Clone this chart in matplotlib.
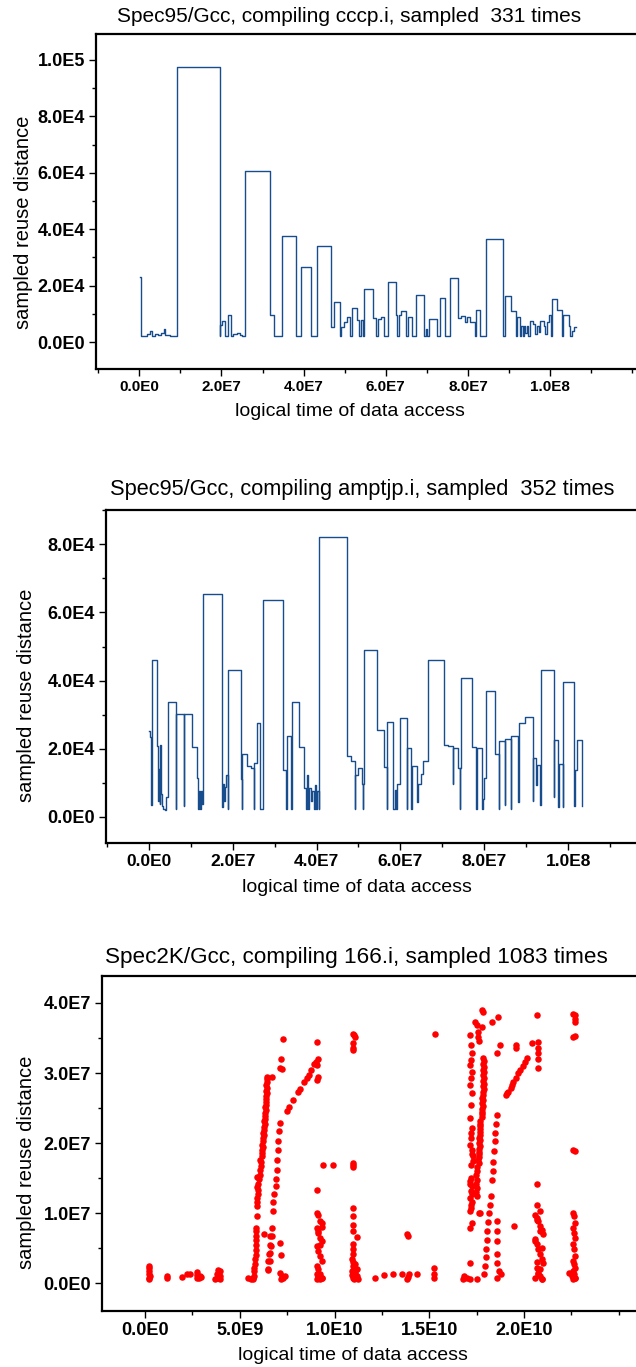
import numpy as np
import matplotlib
matplotlib.use("Agg")
import matplotlib.pyplot as plt
from matplotlib.ticker import FixedLocator, MultipleLocator, FuncFormatter

plt.rcParams['font.family'] = ['Liberation Sans', 'DejaVu Sans']

# --- panel 1: cccp.i (time in 1e6 accesses, distance in 1e3) ---
t1 = [0.16, 0.32, 1.8, 2.6, 3.1, 3.8, 4.6, 5.4, 6.0, 6.3, 7.5, 9.1, 19.56, 19.7, 20.1, 20.8,
      21.6, 22.3, 22.9, 23.7, 24.4, 24.9, 25.7, 31.8, 32.9, 34.7, 38.2, 39.4, 41.7, 43.3,
      46.6, 47.5, 48.8, 49.0, 49.8, 50.6, 51.2, 51.7, 52.9, 53.4, 53.9, 54.4, 54.7, 56.8,
      57.6, 58.2, 58.8, 59.6, 60.6, 62.5, 62.8, 63.1, 63.6, 64.9, 65.5, 66.4, 67.4, 69.2,
      69.8, 70.1, 70.6, 71.6, 72.4, 73.1, 74.3, 75.7, 77.5, 78.3, 79.3, 79.7, 80.5, 81.7,
      81.9, 83.0, 84.5, 88.5, 89.1, 90.5, 91.6, 91.9, 92.7, 92.9, 93.3, 93.7, 94.0, 94.3,
      94.6, 95.1, 95.9, 96.4, 96.8, 97.2, 97.6, 98.4, 98.8, 99.2, 99.8, 100.2, 100.4, 101.6,
      102.9, 103.2, 104.6, 104.9, 105.3, 105.8, 106.3]
d1 = [23.0, 2.25, 2.8, 4.0, 2.25, 2.8, 2.6, 3.3, 4.6, 2.6, 2.25, 97.4, 2.25, 6.2, 7.3, 2.25,
      9.4, 2.25, 2.8, 3.1, 2.6, 2.25, 60.7, 9.6, 2.25, 37.6, 2.25, 26.7, 2.25, 34.1,
      5.2, 14.1, 2.25, 5.2, 7.0, 8.8, 2.25, 12.1, 7.9, 2.25, 7.9, 2.25, 18.7, 8.5,
      2.25, 8.2, 9.0, 2.25, 21.3, 9.4, 2.25, 9.4, 11.1, 2.25, 9.0, 2.25, 16.7, 2.25,
      4.6, 2.25, 8.2, 8.0, 2.25, 15.6, 2.25, 22.6, 8.4, 9.2, 7.0, 9.0, 7.0, 2.25,
      11.3, 2.25, 36.6, 2.25, 16.2, 11.1, 2.25, 9.0, 2.25, 5.8, 2.25, 5.5, 3.1, 5.8,
      2.25, 7.6, 6.4, 2.8, 5.5, 3.4, 7.6, 5.8, 2.8, 7.0, 9.4, 2.25, 15.3, 11.3,
      2.25, 9.4, 5.8, 2.25, 4.0, 5.2, 5.2]

# --- panel 2: amptjp.i (time in 1e6, distance in 1e3) ---
t2 = [0.16, 0.32, 0.64, 0.8, 2.0, 2.3, 2.5, 2.6, 2.8, 3.0, 3.2, 3.4, 3.9, 4.1, 4.5, 6.5,
      6.6, 8.3, 8.4, 10.3, 11.4, 11.7, 11.9, 12.2, 12.5, 12.8, 13.0, 17.5, 17.6, 18.0,
      18.3, 18.4, 18.9, 19.0, 21.9, 22.3, 22.35, 23.5, 24.5, 25.0, 25.2, 25.7, 26.5, 27.3,
      32.1, 32.8, 32.9, 34.0, 34.1, 35.9, 37.1, 37.4, 37.7, 38.0, 38.3, 38.6, 39.0, 39.3,
      39.6, 39.9, 40.1, 40.5, 40.6, 47.3, 48.3, 49.1, 49.2, 49.8, 50.8, 51.0, 51.1, 51.4,
      54.5, 56.0, 56.7, 56.8, 58.3, 58.6, 59.0, 59.1, 59.8, 61.5, 61.6, 62.6, 62.8, 63.9,
      64.3, 64.9, 65.5, 66.5, 70.3, 71.4, 72.5, 72.6, 73.8, 74.1, 74.2, 74.5, 77.0, 78.1,
      78.2, 79.4, 79.6, 80.0, 80.3, 82.6, 83.5, 83.6, 84.9, 85.0, 86.3, 86.4, 88.0, 88.2,
      89.7, 91.6, 91.7, 92.4, 92.5, 93.3, 93.5, 96.5, 96.6, 97.6, 97.9, 98.7, 98.8, 101.4,
      101.5, 102.1, 103.3]
d2 = [25.1, 23.4, 3.5, 46.0, 20.8, 4.7, 14.1, 3.7, 21.0, 6.7, 3.2, 2.3, 2.0, 5.9, 33.6, 2.3,
      30.1, 3.2, 30.1, 20.5, 11.4, 2.3, 7.7, 2.3, 7.5, 3.7, 65.5, 2.8, 9.6, 4.7,
      8.7, 12.4, 2.3, 43.0, 11.1, 2.3, 18.5, 14.9, 14.4, 2.3, 15.8, 27.4, 2.3, 63.7,
      13.6, 2.3, 23.6, 2.3, 33.6, 20.5, 8.5, 2.3, 12.4, 2.3, 8.5, 4.7, 7.7, 2.3,
      9.2, 2.3, 7.7, 2.3, 82.3, 17.7, 16.3, 2.3, 12.3, 14.4, 9.6, 2.3, 9.6, 48.9,
      25.4, 14.6, 2.3, 27.7, 2.3, 7.9, 2.3, 9.6, 29.1, 2.3, 20.2, 2.3, 14.9, 4.2,
      9.6, 12.6, 16.3, 46.1, 21.2, 20.9, 9.6, 20.3, 14.4, 2.3, 14.4, 40.8, 20.5, 2.3,
      20.3, 2.3, 5.2, 11.4, 37.0, 18.5, 2.3, 22.1, 3.5, 22.8, 2.3, 23.8, 4.2, 27.6,
      29.3, 4.7, 17.3, 9.4, 15.1, 3.5, 43.1, 5.7, 22.6, 2.8, 15.6, 2.8, 39.7, 3.2,
      13.6, 22.6, 3.2]

# --- panel 3: 166.i (time in 1e9, distance in 1e6) ---
t3 = [0.23, 0.2, 0.25, 0.23, 0.22, 0.23, 0.22,
      1.14, 1.14, 1.94, 2.2, 2.37, 2.73, 2.73, 2.73, 2.85, 2.9, 2.95,
      3.69, 3.78, 3.78, 3.85, 3.96, 3.96, 3.96, 3.9,
      5.45, 5.6, 5.72, 5.77, 5.77, 5.72, 5.75,
      5.81, 5.81, 5.85, 5.85, 5.85, 5.86, 5.87, 5.87, 5.88, 5.89, 5.9, 5.92, 5.89, 5.95,
      5.95, 5.9, 5.98, 6.0, 5.92, 6.05, 6.07, 6.1, 6.12, 6.07, 6.15, 6.18, 6.2, 6.22,
      6.2, 6.25, 6.22, 6.28, 6.25, 6.3, 6.27, 6.32, 6.3, 6.33, 6.35, 6.33, 6.37, 6.35,
      6.38, 6.37, 6.4, 6.38, 6.42, 6.4, 6.42, 6.4, 6.43, 6.42, 6.43,
      6.51, 6.6, 6.6, 6.64, 6.6, 6.69, 6.73, 6.77, 6.82, 6.9, 6.92, 6.95, 6.95, 7.0,
      7.04, 7.08, 7.1,
      7.48, 7.6, 7.83, 8.09, 8.18, 8.41, 8.53, 8.66, 8.76, 8.92, 9.01, 9.15,
      6.69, 7.18, 7.15, 7.25, 7.3,
      6.28, 6.69, 6.6, 6.54, 6.5, 6.5, 7.13, 7.2, 7.13, 7.2, 7.3, 7.4, 7.25,
      9.06, 9.06, 9.15, 9.06, 9.06, 9.41, 9.94,
      9.06, 9.15, 9.24, 9.32, 9.06, 9.15, 9.24, 9.32, 9.06, 9.15, 9.24, 9.32, 9.06, 9.15,
      9.24, 9.32, 9.06, 9.24, 9.32, 9.15, 9.06, 9.24, 9.15, 9.32,
      11.0, 11.08, 10.95, 10.98, 10.95, 11.05, 10.95, 11.0, 11.0,
      11.0, 10.95, 10.95, 11.0, 11.17, 10.95, 10.98, 11.0, 10.9, 11.0, 11.08, 10.95, 11.05,
      11.17, 10.9, 11.0, 11.1, 11.2, 10.95, 11.05, 11.26, 11.15, 10.92, 11.08,
      12.14, 12.61, 13.11, 13.55, 13.8, 13.9, 13.85, 13.9, 13.95, 14.34,
      15.31, 15.27, 15.27, 15.27,
      16.8, 16.85, 16.98, 17.15, 17.15, 17.15, 17.24,
      17.15, 17.2, 17.24, 17.2, 17.15, 17.24, 17.2, 17.15, 17.24, 17.2, 17.15, 17.24,
      17.2, 17.15, 17.24, 17.33, 17.2, 17.15, 17.24, 17.2, 17.15, 17.24, 17.2, 17.15,
      17.2, 17.24, 17.33, 17.2, 17.15, 17.24, 17.2,
      17.86, 17.9, 17.86, 17.9, 17.86, 17.9, 17.86, 17.9, 17.84, 17.88, 17.84, 17.88,
      17.82, 17.86, 17.8, 17.84, 17.8, 17.82, 17.78, 17.8, 17.76, 17.78,
      17.68, 17.7, 17.66, 17.7, 17.66, 17.68, 17.64, 17.68, 17.62, 17.66, 17.6, 17.64,
      17.6, 17.62, 17.58, 17.6,
      17.5, 17.52, 17.48, 17.52, 17.48, 17.5, 17.46, 17.5,
      17.42, 17.5, 17.59, 17.59, 17.77, 17.86, 17.77, 18.3, 18.65, 17.6,
      18.56, 18.5, 18.47, 18.45, 18.42, 18.38, 18.35, 18.3, 18.25, 18.2, 18.15, 18.1,
      18.07, 18.03, 18.0, 17.97, 17.94, 17.9,
      18.56, 18.56, 18.56, 18.56, 18.56, 18.7, 18.8, 18.56, 17.5, 17.6, 17.7,
      19.05, 19.18, 19.3, 19.44, 19.58, 19.7, 19.79, 19.93, 20.06, 20.14, 19.1, 19.37,
      18.56, 18.74, 19.58, 19.58, 20.41, 20.67, 20.76, 20.76, 20.76, 20.76, 20.76,
      20.67, 20.67, 20.85,
      20.58, 20.67, 20.76, 20.85, 20.94, 21.02, 20.58, 20.67, 20.76, 20.85, 20.94,
      21.02, 20.67, 20.76, 20.85, 20.94,
      20.58, 20.76, 20.94, 20.85, 20.67, 20.94, 20.58, 20.85, 20.67, 19.48,
      22.61, 22.69, 22.69, 22.69, 22.61, 22.69, 22.61, 22.69,
      22.61, 22.65, 22.7, 22.61, 22.65, 22.7, 22.61, 22.65, 22.7, 22.61, 22.65, 22.7,
      22.61, 22.65, 22.7, 22.61,
      22.4, 22.52, 22.7]
d3 = [0.57, 0.81, 1.04, 1.28, 1.75, 2.23, 2.46,
      0.81, 1.04, 0.95, 1.28, 1.4, 0.81, 1.2, 1.6, 0.81, 1.04, 0.9,
      0.57, 0.81, 1.28, 1.85, 0.6, 1.04, 1.75, 0.8,
      0.81, 0.6, 0.57, 1.75, 2.23, 0.8, 1.0,
      2.7, 3.4, 4.1, 4.8, 5.5, 6.2, 6.7, 7.4, 7.9, 9.6, 11.0, 11.6, 12.2, 12.7,
      13.3, 13.8, 14.2, 14.9, 15.2, 15.5, 16.2, 16.8, 17.3, 17.6, 18.1, 18.6, 19.0, 19.4,
      19.8, 20.3, 20.7, 21.1, 21.5, 21.9, 22.3, 22.7, 23.1, 23.5, 23.9, 24.3, 24.7, 25.1,
      25.5, 25.9, 26.3, 26.7, 27.1, 27.5, 27.9, 28.3, 28.7, 29.1, 29.5,
      1.99, 3.18, 4.27, 5.31, 6.73, 7.91, 10.28, 11.56, 12.75, 13.84, 14.93, 16.21, 17.58, 18.96,
      20.33, 21.75, 22.94,
      24.6, 25.21, 26.21, 27.35, 27.72, 28.77, 29.24, 29.72, 30.43, 31.28, 31.61, 31.94,
      29.48, 31.94, 30.66, 30.6, 34.83,
      6.97, 6.73, 5.4, 4.2, 3.2, 1.9, 5.8, 4.1, 1.5, 0.6, 0.81, 1.0, 1.04,
      34.5, 31.14, 29.48, 29.0, 13.27, 16.82, 16.82,
      10.05, 9.81, 8.86, 8.63, 7.91, 7.2, 6.49, 6.02, 5.31, 4.6, 3.89, 3.18, 2.46, 1.99,
      1.28, 0.81, 0.57, 0.6, 0.8, 1.0, 1.3, 5.5, 7.5, 8.0,
      35.64, 35.17, 34.31, 33.51, 33.27, 35.4, 16.92, 16.6, 17.2,
      10.76, 9.57, 8.39, 7.44, 6.6, 5.55, 4.83, 4.12, 3.41, 3.0, 2.7, 2.46, 2.23,
      1.99, 1.75, 1.52, 1.28, 1.04, 0.81, 0.57, 0.6, 0.9, 1.2, 1.6,
      0.7, 1.2, 1.3, 1.3, 7.0, 6.7, 0.6, 0.9, 1.3, 1.3,
      35.64, 2.23, 1.28, 0.81,
      0.6, 1.0, 0.8, 0.57, 2.94, 7.91, 8.63,
      35.4, 33.98, 32.8, 31.85, 31.14, 30.19, 29.24, 28.29, 27.11, 25.45, 23.55, 22.13,
      20.71, 19.76, 19.05, 18.1, 16.92, 14.55, 13.84, 13.13, 12.18, 11.56, 10.76, 10.28,
      21.4, 18.5, 17.5, 15.0, 14.2, 12.7, 11.2,
      32.1, 31.7, 31.3, 30.9, 30.5, 30.1, 29.7, 29.3, 28.9, 28.5, 28.1, 27.7,
      27.3, 26.9, 26.5, 26.1, 25.7, 25.3, 24.9, 24.5, 24.1, 23.7,
      23.2, 22.8, 22.4, 22.0, 21.6, 21.2, 20.8, 20.4, 20.0, 19.6, 19.2, 18.8,
      18.4, 18.0, 17.6, 17.2,
      16.6, 16.0, 15.4, 14.8, 14.2, 13.6, 13.0, 12.4,
      37.3, 36.82, 35.88, 35.17, 38.96, 38.72, 36.59, 37.3, 38.01, 34.6,
      24.03, 22.7, 21.42, 20.33, 18.82, 17.3, 16.0, 14.7, 12.4, 11.2, 10.0, 8.7,
      7.4, 6.2, 4.9, 3.7, 2.5, 1.3,
      8.86, 7.44, 6.02, 4.2, 2.9, 1.75, 1.28, 0.81, 0.6, 10.0, 10.0,
      26.87, 27.35, 27.91, 28.67, 29.24, 29.95, 30.43, 31.04, 31.61, 32.08, 27.1, 28.3,
      32.8, 33.98, 33.98, 33.51, 34.31, 38.34, 34.45, 33.51, 32.8, 31.94, 30.66,
      14.22, 11.23, 10.28,
      9.8, 9.34, 8.86, 8.15, 7.67, 6.97, 6.26, 5.55, 4.83, 4.12, 3.41,
      2.94, 2.23, 1.52, 1.04, 0.57,
      0.8, 1.3, 0.6, 2.0, 3.0, 5.0, 6.0, 7.4, 9.0, 8.2,
      38.48, 38.25, 37.77, 37.3, 35.17, 35.31, 18.96, 18.82,
      10.05, 9.57, 8.63, 7.91, 7.2, 6.49, 5.55, 4.83, 3.89, 3.18, 2.7, 2.23,
      1.75, 1.28, 0.81, 0.57,
      1.52, 1.0, 0.8]

titles = ["Spec95/Gcc, compiling cccp.i, sampled  331 times",
          "Spec95/Gcc, compiling amptjp.i, sampled  352 times",
          "Spec2K/Gcc, compiling 166.i, sampled 1083 times"]
xlab = "logical time of data access"
ylab = "sampled reuse distance"


def efmt(v, pos):
    if v == 0:
        return "0.0E0"
    e = int(np.floor(np.log10(abs(v)) + 1e-9))
    return f"{v / 10**e:.1f}E{e}"


W, H = 636, 1367
fig = plt.figure(figsize=(W / 100, H / 100), dpi=100)


def make_ax(left, top, bottom):
    ax = fig.add_axes([left / W, 1 - bottom / H, (W - left) / W, (bottom - top) / H])
    ax.spines['right'].set_visible(False)
    for s in ['left', 'top', 'bottom']:
        ax.spines[s].set_linewidth(1.6)
    ax.tick_params(which='major', direction='out', length=5, width=1, pad=3)
    ax.tick_params(which='minor', direction='out', length=3, width=1)
    ax.xaxis.set_major_formatter(FuncFormatter(efmt))
    ax.yaxis.set_major_formatter(FuncFormatter(efmt))
    return ax


blue = "#174d8c"

# panel 1
ax1 = make_ax(96, 34, 369)
ax1.step(np.array(t1) * 1e6, np.array(d1) * 1e3, where='post', color=blue, lw=1.0)
ax1.set_xlim(-1.054e7, 1.209e8)
ax1.set_ylim(-9.57e3, 1.092e5)
ax1.xaxis.set_major_locator(FixedLocator([0, 2e7, 4e7, 6e7, 8e7, 1e8]))
ax1.xaxis.set_minor_locator(MultipleLocator(1e7))
ax1.yaxis.set_major_locator(FixedLocator([0, 2e4, 4e4, 6e4, 8e4, 1e5]))
ax1.yaxis.set_minor_locator(MultipleLocator(1e4))

# panel 2
ax2 = make_ax(106, 510, 843)
ax2.step(np.array(t2) * 1e6, np.array(d2) * 1e3, where='post', color=blue, lw=1.0)
ax2.set_xlim(-1.018e7, 1.1616e8)
ax2.set_ylim(-7.72e3, 9.01e4)
ax2.xaxis.set_major_locator(FixedLocator([0, 2e7, 4e7, 6e7, 8e7, 1e8]))
ax2.xaxis.set_minor_locator(MultipleLocator(1e7))
ax2.yaxis.set_major_locator(FixedLocator([0, 2e4, 4e4, 6e4, 8e4]))
ax2.yaxis.set_minor_locator(MultipleLocator(1e4))

# panel 3
ax3 = make_ax(102, 976, 1311)
ax3.scatter(np.array(t3) * 1e9, np.array(d3) * 1e6, s=22, color="#ff0000", linewidths=0)
ax3.set_xlim(-2.269e9, 2.591e10)
ax3.set_ylim(-3.95e6, 4.385e7)
ax3.xaxis.set_major_locator(FixedLocator([0, 5e9, 1e10, 1.5e10, 2e10]))
ax3.xaxis.set_minor_locator(MultipleLocator(2.5e9))
ax3.yaxis.set_major_locator(FixedLocator([0, 1e7, 2e7, 3e7, 4e7]))
ax3.yaxis.set_minor_locator(MultipleLocator(5e6))

xsizes = [11, 12.5, 13]
for ax, xs in zip((ax1, ax2, ax3), xsizes):
    for lab in ax.get_yticklabels():
        lab.set_fontweight('bold')
        lab.set_fontsize(13)
    for lab in ax.get_xticklabels():
        lab.set_fontweight('bold')
        lab.set_fontsize(xs)

# titles and axis labels placed in figure pixels
title_pos = [(349, 17), (362, 490), (356, 957)]
title_size = [15, 15.7, 16.2]
xlab_pos = [(350, 412), (357, 887), (353, 1355)]
ylab_pos = [(24, 222), (27, 695), (27, 1162)]
for i in range(3):
    tx, ty = title_pos[i]
    fig.text(tx / W, 1 - ty / H, titles[i], ha='center', va='center', fontsize=title_size[i])
    xx, xy = xlab_pos[i]
    fig.text(xx / W, 1 - xy / H, xlab, ha='center', va='center', fontsize=14)
    yx, yy = ylab_pos[i]
    fig.text(yx / W, 1 - yy / H, ylab, ha='center', va='center', rotation=90, fontsize=14.5)

fig.savefig("out.png", dpi=100)
